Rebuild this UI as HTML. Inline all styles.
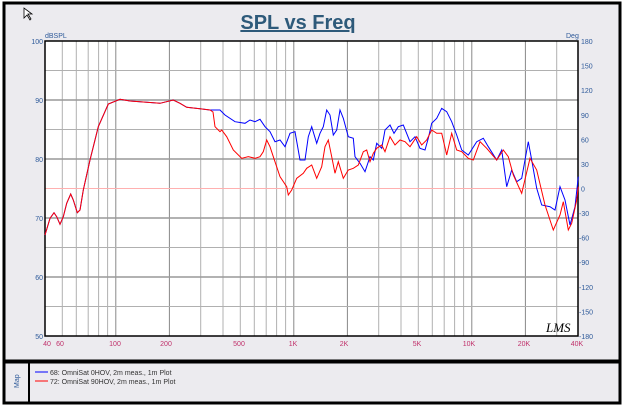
<!DOCTYPE html>
<html><head><meta charset="utf-8"><style>
html,body{margin:0;padding:0;background:#fff}
body{width:624px;height:406px;overflow:hidden}
</style></head><body>
<svg width="624" height="406" xmlns="http://www.w3.org/2000/svg" font-family="Liberation Sans, sans-serif">
<rect x="0" y="0" width="624" height="406" fill="#ffffff"/>
<rect x="4" y="3" width="616" height="358" fill="#ecebef" stroke="#000" stroke-width="3"/>
<rect x="4" y="362" width="616" height="41" fill="#ecebef" stroke="#000" stroke-width="3"/>
<line x1="29" y1="362" x2="29" y2="403" stroke="#000" stroke-width="2"/>
<text x="0" y="0" transform="translate(19,388) rotate(-90)" font-size="7" fill="#2e5a9a">Map</text>
<line x1="35" y1="372" x2="48" y2="372" stroke="#0000ff" stroke-width="1"/>
<line x1="35" y1="381" x2="48" y2="381" stroke="#ff0000" stroke-width="1"/>
<text x="50" y="375" font-size="7" fill="#333">68: OmniSat 0HOV, 2m meas., 1m Plot</text>
<text x="50" y="384" font-size="7" fill="#333">72: OmniSat 90HOV, 2m meas., 1m Plot</text>
<path d="M24 8 v10 l3 -3 l3 5 l1 -1 l-3 -5 h4 z" fill="#fff" stroke="#000" stroke-width="0.8"/>
<text x="298" y="29" font-size="20" font-weight="bold" fill="#2e5a7a" text-anchor="middle" text-decoration="underline">SPL vs Freq</text>
<rect x="45" y="41" width="533" height="295" fill="#fff"/>
<g stroke="#b0b0b0" stroke-width="1">
<line x1="62.3" y1="41" x2="62.3" y2="336"/><line x1="76.3" y1="41" x2="76.3" y2="336"/><line x1="88.2" y1="41" x2="88.2" y2="336"/><line x1="98.6" y1="41" x2="98.6" y2="336"/><line x1="107.6" y1="41" x2="107.6" y2="336"/>
<line x1="115.8" y1="41" x2="115.8" y2="336" stroke="#888"/><line x1="169.4" y1="41" x2="169.4" y2="336" stroke="#888"/><line x1="200.7" y1="41" x2="200.7" y2="336"/><line x1="223" y1="41" x2="223" y2="336"/><line x1="240.3" y1="41" x2="240.3" y2="336"/><line x1="254.3" y1="41" x2="254.3" y2="336"/><line x1="266.2" y1="41" x2="266.2" y2="336"/><line x1="276.6" y1="41" x2="276.6" y2="336"/><line x1="285.6" y1="41" x2="285.6" y2="336"/>
<line x1="293.8" y1="41" x2="293.8" y2="336" stroke="#888"/><line x1="347.4" y1="41" x2="347.4" y2="336" stroke="#888"/><line x1="378.7" y1="41" x2="378.7" y2="336"/><line x1="401" y1="41" x2="401" y2="336"/><line x1="418.3" y1="41" x2="418.3" y2="336"/><line x1="432.3" y1="41" x2="432.3" y2="336"/><line x1="444.2" y1="41" x2="444.2" y2="336"/><line x1="454.6" y1="41" x2="454.6" y2="336"/><line x1="463.6" y1="41" x2="463.6" y2="336"/>
<line x1="471.8" y1="41" x2="471.8" y2="336" stroke="#888"/><line x1="525.4" y1="41" x2="525.4" y2="336" stroke="#888"/><line x1="556.7" y1="41" x2="556.7" y2="336"/>
<line x1="45" y1="70.5" x2="578" y2="70.5"/><line x1="45" y1="100" x2="578" y2="100" stroke="#999" stroke-width="1.5"/><line x1="45" y1="129.5" x2="578" y2="129.5"/><line x1="45" y1="159" x2="578" y2="159" stroke="#999" stroke-width="1.5"/><line x1="45" y1="218" x2="578" y2="218" stroke="#999" stroke-width="1.5"/><line x1="45" y1="247.5" x2="578" y2="247.5"/><line x1="45" y1="277" x2="578" y2="277" stroke="#999" stroke-width="1.5"/><line x1="45" y1="306.5" x2="578" y2="306.5"/>
</g>
<line x1="45" y1="188.5" x2="578" y2="188.5" stroke="#ffb0b0" stroke-width="1"/>
<rect x="45" y="41" width="533" height="295" fill="none" stroke="#000" stroke-width="1.5"/>
<polyline fill="none" stroke="#0000ff" stroke-width="1" points="45,235 50,218.3 54,212.7 56.7,216.7 60,224.3 63.3,216.7 66.7,203.3 70.7,194 73.3,200 77.3,212.7 80,210 83.3,190 90,160 98.3,126.7 108.3,104 120,99.3 130,101 146.7,102.3 160,103.3 173.3,100 180,103.3 186.7,107.3 200,108.7 210,110 220,110 225,115 235,121.7 245,123.3 250,120 255,121.7 260,119.3 265,126.7 270,131.7 275,141.7 280,140 285,146.7 290,133.3 295,131.7 300,160 305,160 308.3,136.7 311.7,126.7 316.7,143.3 320,133.3 323.3,126.7 326.7,110 330,115 333.3,135 336.7,130 340,110 343.3,118.3 348.3,136.7 353.3,138.3 355,156.7 360,163.3 365,171.7 370,156.7 373.3,160 376.7,143.3 381.7,148.3 385,130 390,125 394,133.3 398.3,126.7 403.3,125 410,141.7 415,136.7 420,148.3 425,150 428.3,138.3 431.7,123.3 436.7,118.3 441.7,108.3 446.7,111.7 451.7,121.7 456.7,135 461.7,150 468.3,155 476.7,141.7 483.3,138.3 488.3,146.7 496.7,160 501.7,150 506.7,186.7 511.7,170 516.7,181.7 521.7,178.3 528.3,141.7 531.7,160 536.7,188.3 541.7,205 550,206.7 555,210 560,186.7 565,200 570,225 575,206.7 578.3,176.7"/>
<polyline fill="none" stroke="#ff0000" stroke-width="1" points="45,235 50,218.3 54,212.7 56.7,216.7 60,224.3 63.3,216.7 66.7,203.3 70.7,194 73.3,200 77.3,212.7 80,210 83.3,190 90,160 98.3,126.7 108.3,104 120,99.3 130,101 146.7,102.3 160,103.3 173.3,100 180,103.3 186.7,107.3 200,108.7 210,110 213,112 215,126.7 220,131.7 221.7,130 226.7,136.7 233.3,150 241.7,158.3 248.3,156.7 255,158.3 260,156.7 263.3,151.7 266.7,140 270,146.7 273.3,156.7 280,176.7 286.7,186.7 288.3,195 291.7,190 296.7,178.3 303.3,173.3 306.7,168.3 311.7,165 316.7,178.3 321.7,166.7 325,146.7 328.3,140 331.7,156.7 335,173.3 338.3,161.7 343.3,178.3 348.3,170 353.3,168.3 358.3,165 363.3,151.7 366.7,150 370,161.7 373.3,153.3 376.7,148.3 381.7,145 385,151.7 390,136.7 395,145 400,140 405,141.7 410,146.7 416.7,136.7 421.7,145 426.7,140 431.7,130 436.7,133.3 441.7,133.3 446.7,155 451.7,133.3 456.7,150 461.7,151.7 468.3,158.3 473.3,160 480,141.7 486.7,148.3 496.7,160 503.3,150 508.3,156.7 513.3,175 521.7,193.3 530,158.3 536.7,170 545,205 553.3,230 560,215 563.3,201.7 568.3,230 571.7,223.3 576.7,200 578.3,186.7"/>
<text x="546" y="332" font-size="13" font-style="italic" fill="#000" font-family="Liberation Serif, serif">LMS</text>
<g font-size="7" fill="#2e5a9a">
<text x="45" y="38">dBSPL</text>
<text x="566" y="38">Deg</text>
<g text-anchor="end"><text x="43" y="44">100</text><text x="43" y="103">90</text><text x="43" y="162">80</text><text x="43" y="221">70</text><text x="43" y="280">60</text><text x="43" y="339">50</text></g>
<g><text x="581" y="44">180</text><text x="581" y="68.6">150</text><text x="581" y="93.2">120</text><text x="581" y="117.8">90</text><text x="581" y="142.3">60</text><text x="581" y="166.9">30</text><text x="581" y="191.5">0</text><text x="579" y="216.1">-30</text><text x="579" y="240.7">-60</text><text x="579" y="265.2">-90</text><text x="579" y="289.8">-120</text><text x="579" y="314.4">-150</text><text x="579" y="339">-180</text></g>
</g>
<g font-size="7" fill="#c0306a" text-anchor="middle">
<text x="47" y="346">40</text><text x="60" y="346">60</text><text x="115" y="346">100</text><text x="166" y="346">200</text><text x="239" y="346">500</text><text x="293" y="346">1K</text><text x="344" y="346">2K</text><text x="417" y="346">5K</text><text x="469" y="346">10K</text><text x="524" y="346">20K</text><text x="577" y="346">40K</text>
</g>
</svg>
</body></html>
